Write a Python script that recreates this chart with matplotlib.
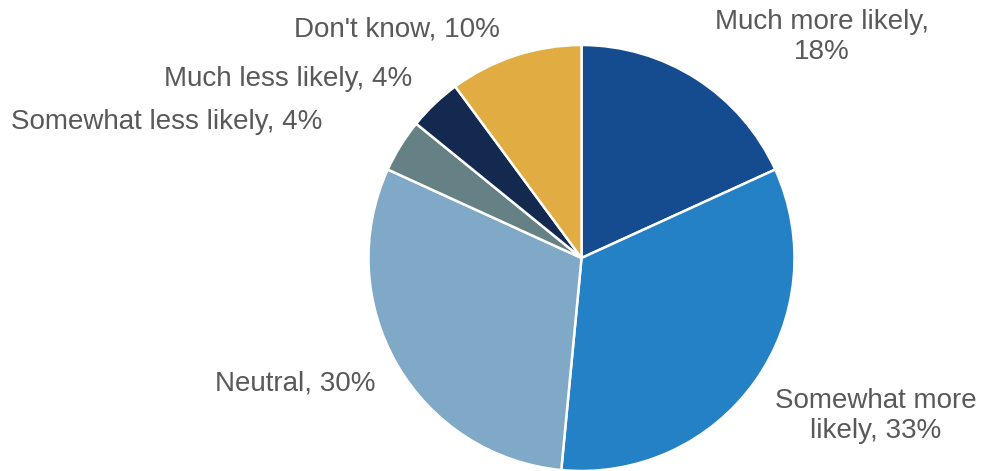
import matplotlib
matplotlib.use("Agg")
import matplotlib.pyplot as plt

categories = ["Much more likely", "Somewhat more likely", "Neutral",
              "Somewhat less likely", "Much less likely", "Don't know"]
values = [18, 33, 30, 4, 4, 10]
label_texts = ["Much more likely,\n18%", "Somewhat more\nlikely, 33%", "Neutral, 30%",
               "Somewhat less likely, 4%", "Much less likely, 4%", "Don't know, 10%"]
colors = ["#154C8F", "#2581C5", "#80A8C7", "#658186", "#14294F", "#E1AD42"]

W, H = 981, 471
fig = plt.figure(figsize=(W / 100, H / 100), dpi=100)
ax = fig.add_axes([0, 0, 1, 1])

cx, cy, r = 581.5, H - 258, 213
ax.pie(values, colors=colors, startangle=90, counterclock=False,
       center=(cx, cy), radius=r, frame=True,
       wedgeprops=dict(edgecolor="white", linewidth=1.8))
ax.set_xlim(0, W)
ax.set_ylim(0, H)
ax.set_aspect("equal")
ax.axis("off")

# label anchor points (figure pixel coordinates, y from top)
label_pos = [(822, 37), (876, 416), (295, 383), (167, 122), (288, 79), (397, 29)]
for txt, (x, y) in zip(label_texts, label_pos):
    ax.text(x, H - y, txt, ha="center", va="center", fontsize=20,
            color="#595959", family="Liberation Sans", linespacing=1.2)

fig.savefig("out.png", dpi=100)
